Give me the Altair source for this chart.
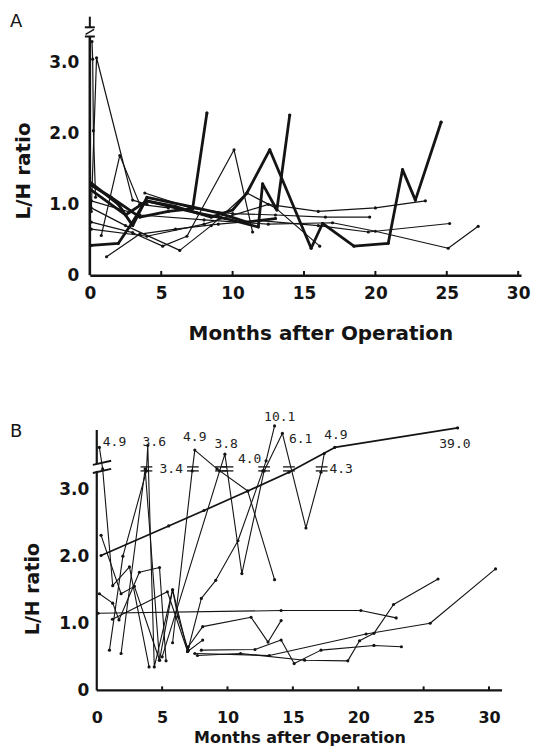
import altair as alt
import pandas as pd

INK = "#141414"
SANS = "DejaVu Sans"
MONO = "DejaVu Sans Mono"

MONTH_TICKS = [0, 5, 10, 15, 20, 25, 30]
RATIO_TICKS = [0, 1, 2, 3]

# ---------------- Panel A: (month, L/H ratio) ----------------
A_THICK_1 = [(0.1, 1.27), (1.5, 1.1), (3.5, 0.82), (5.5, 0.9), (7.2, 0.94), (8.2, 2.29)]
A_THICK_2 = [(0.1, 1.2), (2.5, 0.85), (4.0, 1.05), (6.0, 0.95), (7.5, 0.88), (9.5, 0.8),
             (11.8, 0.68), (12.1, 1.29), (13.1, 0.92), (14.0, 2.26)]
A_THICK_3 = [(0.1, 0.42), (2.0, 0.45), (3.0, 0.75), (3.9, 1.05), (6.0, 0.97), (8.5, 0.82),
             (10.0, 0.92), (11.0, 1.16), (12.6, 1.77), (15.5, 0.38), (16.3, 0.73), (18.5, 0.41),
             (20.9, 0.45), (21.9, 1.49), (22.8, 1.06), (24.6, 2.16)]
A_THICK_4 = [(0.1, 1.3), (2.0, 1.0), (3.0, 0.7), (4.0, 1.1), (7.0, 0.97), (9.0, 0.88),
             (11.0, 0.75), (13.0, 0.8)]
A_THIN_1 = [(0.1, 0.9), (0.47, 3.07), (3.0, 1.06), (4.0, 1.0)]
A_THIN_2 = [(0.8, 0.56), (2.1, 1.69), (3.5, 1.0), (5.5, 0.95)]
A_THIN_3 = [(1.17, 0.26), (3.5, 0.58), (6.0, 0.65), (9.0, 0.72), (11.9, 0.77), (16.0, 0.7),
            (19.5, 0.61), (25.2, 0.73)]
A_THIN_4 = [(0.1, 0.75), (3.0, 0.6), (5.1, 0.41), (6.8, 0.55), (10.1, 1.77), (11.4, 0.61)]
A_THIN_5 = [(0.1, 0.95), (2.5, 0.7), (6.3, 0.35), (8.5, 0.7), (11.0, 1.16), (13.0, 0.95), (16.1, 0.41)]
A_THIN_6 = [(0.1, 1.05), (3.5, 0.85), (8.0, 0.78), (12.5, 0.72), (17.0, 0.74), (20.0, 0.62),
            (25.1, 0.38), (27.2, 0.69)]
A_THIN_7 = [(3.85, 1.16), (7.2, 0.94), (10.0, 0.87), (13.0, 0.85), (16.5, 0.82), (19.6, 0.82)]
A_THIN_8 = [(0.1, 0.65), (4.0, 0.55), (8.0, 0.72), (12.5, 1.0), (16.0, 0.9), (20.0, 0.95), (23.5, 1.05)]
A_THIN_9 = [(0.15, 3.3), (0.2, 3.05), (0.25, 2.04), (0.4, 1.1)]

# ---------------- Panel B: (month, plotted L/H ratio; compressed above the break) ----------------
B_LONG = [(0.33, 2.01), (5.5, 2.45), (8.2, 2.68), (11.55, 2.97), (14.7, 3.25), (18.2, 3.62), (27.6, 3.91)]
B_2 = [(0.2, 3.62), (0.45, 3.3), (1.22, 1.56), (2.5, 1.84), (4.0, 0.35)]
B_3 = [(0.97, 0.6), (2.0, 2.0), (3.8, 3.27), (3.9, 3.65), (4.4, 0.35), (5.8, 1.5), (6.95, 0.58)]
B_4 = [(1.86, 0.55), (3.7, 3.3), (4.8, 0.45)]
B_5 = [(5.8, 0.71), (7.3, 3.27), (7.5, 3.58), (9.2, 3.3), (11.55, 2.97), (13.6, 1.65)]
B_6 = [(5.0, 0.5), (9.4, 3.27), (9.8, 3.52), (11.1, 1.74), (12.8, 3.27), (14.2, 3.83), (16.0, 2.42),
       (17.15, 3.25), (17.4, 3.53)]
B_7 = [(6.95, 0.58), (8.0, 1.37), (9.1, 1.64), (10.8, 2.23), (12.7, 3.27), (12.95, 3.42), (13.6, 3.94)]
B_8 = [(0.1, 1.15), (14.1, 1.19), (20.2, 1.19), (22.9, 1.08)]
B_9 = [(0.33, 2.31), (1.86, 1.44), (2.88, 1.55), (4.8, 0.45), (5.8, 1.5), (6.2, 1.1), (7.0, 0.6)]
B_10 = [(0.2, 1.44), (1.22, 1.3), (1.7, 1.05), (3.26, 1.76), (4.8, 1.83), (5.3, 0.44)]
B_11 = [(1.2, 1.06), (5.4, 1.47), (6.95, 0.58), (8.1, 0.75)]
B_12 = [(7.0, 0.65), (8.1, 0.95), (11.8, 1.09), (13.1, 0.72), (14.1, 1.04)]
B_13 = [(7.7, 0.52), (11.0, 0.55), (15.9, 0.45), (19.2, 0.44), (20.1, 0.74), (21.2, 0.85),
        (22.7, 1.28), (26.1, 1.66)]
B_14 = [(8.0, 0.6), (12.1, 0.61), (14.1, 0.75), (15.1, 0.4), (17.15, 0.6), (21.2, 0.67), (23.3, 0.65)]
B_15 = [(7.5, 0.55), (13.2, 0.52), (20.6, 0.84), (25.5, 1.0), (30.5, 1.81)]

# off-scale values written next to the points
B_LABEL_TEXT = ["4.9", "3.6", "3.4", "4.9", "3.8", "4.0", "10.1", "6.1", "4.9", "4.3", "39.0"]
B_LABEL_MONTH = [0.46, 3.5, 4.8, 6.6, 9.0, 10.8, 12.8, 14.7, 17.4, 17.8, 26.2]
B_LABEL_RATIO = [3.70, 3.70, 3.30, 3.77, 3.67, 3.45, 4.08, 3.74, 3.81, 3.30, 3.67]
# months where a line crosses the axis break ("=" marks)
B_BREAK_MONTHS = [3.8, 7.35, 9.5, 10.0, 12.8, 14.7, 17.2]

THICK_W, THIN_W, B_W, B_LONG_W = 2.8, 1.2, 1.1, 1.7


def table(groups):
    rows = []
    k = 0
    for series_list, w in groups:
        for s in series_list:
            for j, (m, v) in enumerate(s):
                rows.append({"series": k, "order": j, "month": m, "ratio": v, "w": w})
            k += 1
    return pd.DataFrame(rows)


dfA = table([([A_THICK_1, A_THICK_2, A_THICK_3, A_THICK_4], THICK_W),
             ([A_THIN_1, A_THIN_2, A_THIN_3, A_THIN_4, A_THIN_5, A_THIN_6, A_THIN_7, A_THIN_8, A_THIN_9], THIN_W)])
dfB = table([([B_LONG], B_LONG_W),
             ([B_2, B_3, B_4, B_5, B_6, B_7, B_8, B_9, B_10, B_11, B_12, B_13, B_14, B_15], B_W)])

# axis pieces (drawn as rules so the broken axes can be shown)
rulesA = pd.DataFrame([
    {"month": 0, "month2": 0, "ratio": 0, "ratio2": 3.37, "w": 2.6},
    {"month": -0.35, "month2": 0.35, "ratio": 3.37, "ratio2": 3.37, "w": 2.0},
    {"month": 0, "month2": 0, "ratio": 3.5, "ratio2": 3.65, "w": 2.0},
    {"month": -0.35, "month2": 0.35, "ratio": 3.5, "ratio2": 3.5, "w": 2.0},
    {"month": -0.3, "month2": 0.3, "ratio": 3.40, "ratio2": 3.47, "w": 1.5},
] + [{"month": m, "month2": m, "ratio": 0, "ratio2": 0.06, "w": 2.0} for m in MONTH_TICKS[1:]])

rulesB = pd.DataFrame([
    {"month": 0, "month2": 31, "ratio": 0, "ratio2": 0, "w": 2.4},
    {"month": 0, "month2": 0, "ratio": 0, "ratio2": 3.27, "w": 2.2},
    {"month": 0, "month2": 0, "ratio": 3.37, "ratio2": 3.88, "w": 2.2},
    {"month": -0.3, "month2": 1.1, "ratio": 3.24, "ratio2": 3.30, "w": 2.0},
    {"month": -0.3, "month2": 1.1, "ratio": 3.36, "ratio2": 3.42, "w": 2.0},
] + [{"month": m, "month2": m, "ratio": 0, "ratio2": 0.06, "w": 2.0} for m in MONTH_TICKS[1:]]
  + [{"month": m - 0.45, "month2": m + 0.45, "ratio": r, "ratio2": r, "w": 1.3}
     for m in B_BREAK_MONTHS for r in (3.27, 3.33)])

labelsB = pd.DataFrame({"month": B_LABEL_MONTH, "ratio": B_LABEL_RATIO, "label": B_LABEL_TEXT})

LABEL_EXPR = "datum.value == 0 ? '0' : format(datum.value, '.1f')"


def panel(df, rules, xdom, ydom, w, h, title, title_dx, title_dy, xaxis, yaxis, labels=None):
    xs = alt.Scale(domain=xdom, nice=False, zero=False)
    ys = alt.Scale(domain=ydom, nice=False, zero=False)
    X = lambda f: alt.X(f, scale=xs, axis=xaxis)
    Y = lambda f: alt.Y(f, scale=ys, axis=yaxis)
    base = alt.Chart(df)
    line = base.mark_line(color=INK, strokeJoin="round", strokeCap="round").encode(
        x=X("month:Q"), y=Y("ratio:Q"),
        detail="series:N",
        order="order:Q",
        strokeWidth=alt.StrokeWidth("w:Q", scale=None),
    )
    pts = base.mark_circle(color=INK, size=10, opacity=1).encode(x=X("month:Q"), y=Y("ratio:Q"))
    rl = alt.Chart(rules).mark_rule(color=INK).encode(
        x=X("month:Q"), x2="month2:Q", y=Y("ratio:Q"), y2="ratio2:Q",
        strokeWidth=alt.StrokeWidth("w:Q", scale=None))
    layers = [line, pts, rl]
    if labels is not None:
        tx = alt.Chart(labels).mark_text(font=MONO, fontSize=13, color="#222", align="left",
                                         baseline="middle").encode(
            x=X("month:Q"), y=Y("ratio:Q"), text="label:N")
        layers.append(tx)
    return alt.layer(*layers).properties(
        width=w, height=h,
        title=alt.TitleParams(title, anchor="start", frame="group", dx=title_dx, dy=title_dy,
                              font=SANS, fontSize=18, fontWeight="normal", color=INK,
                              baseline="bottom", offset=0),
    )


def xaxis(pad, tx, ty, fs, lfs=17, domain=True):
    return alt.Axis(values=MONTH_TICKS, title="Months after Operation", grid=False, ticks=False,
                    domain=domain, domainColor=INK, domainWidth=2.5, labelFont=SANS,
                    labelFontWeight="bold", labelFontSize=lfs, labelColor=INK, labelPadding=pad,
                    titleFont=SANS, titleFontWeight="bold", titleFontSize=fs, titleColor=INK,
                    titleX=tx, titleY=ty, titleBaseline="top", labelFlush=False)


def yaxis(pad, tx, ty, fs):
    return alt.Axis(values=RATIO_TICKS, labelExpr=LABEL_EXPR, title="L/H ratio", grid=False,
                    ticks=False, domain=False, labelFont=SANS, labelFontWeight="bold",
                    labelFontSize=17, labelColor=INK, labelPadding=pad, titleFont=SANS,
                    titleFontWeight="bold", titleFontSize=fs, titleColor=INK, titleX=tx, titleY=ty,
                    titleAngle=270, titleBaseline="bottom", titleAlign="center")


chartA = panel(dfA, rulesA, [0, 30.2], [0, 3.65], 432, 259, "A", -80, 33,
               xaxis(10, 231, 48, 20), yaxis(11, -56, 154, 20))
chartB = panel(dfB, rulesB, [-0.53, 31], [0, 4.0], 413, 269, "B", -80, 49,
               xaxis(19, 210, 39, 16, lfs=16, domain=False), yaxis(1, -47, 167, 19), labels=labelsB)

chart = alt.concat(chartA, chartB, columns=1, spacing=67).properties(
    padding={"left": 10, "top": 12, "right": 5, "bottom": 0},
    background="white",
).configure_view(stroke=None)

chart.save("out.html", embed_options={"renderer": "svg", "actions": False})
